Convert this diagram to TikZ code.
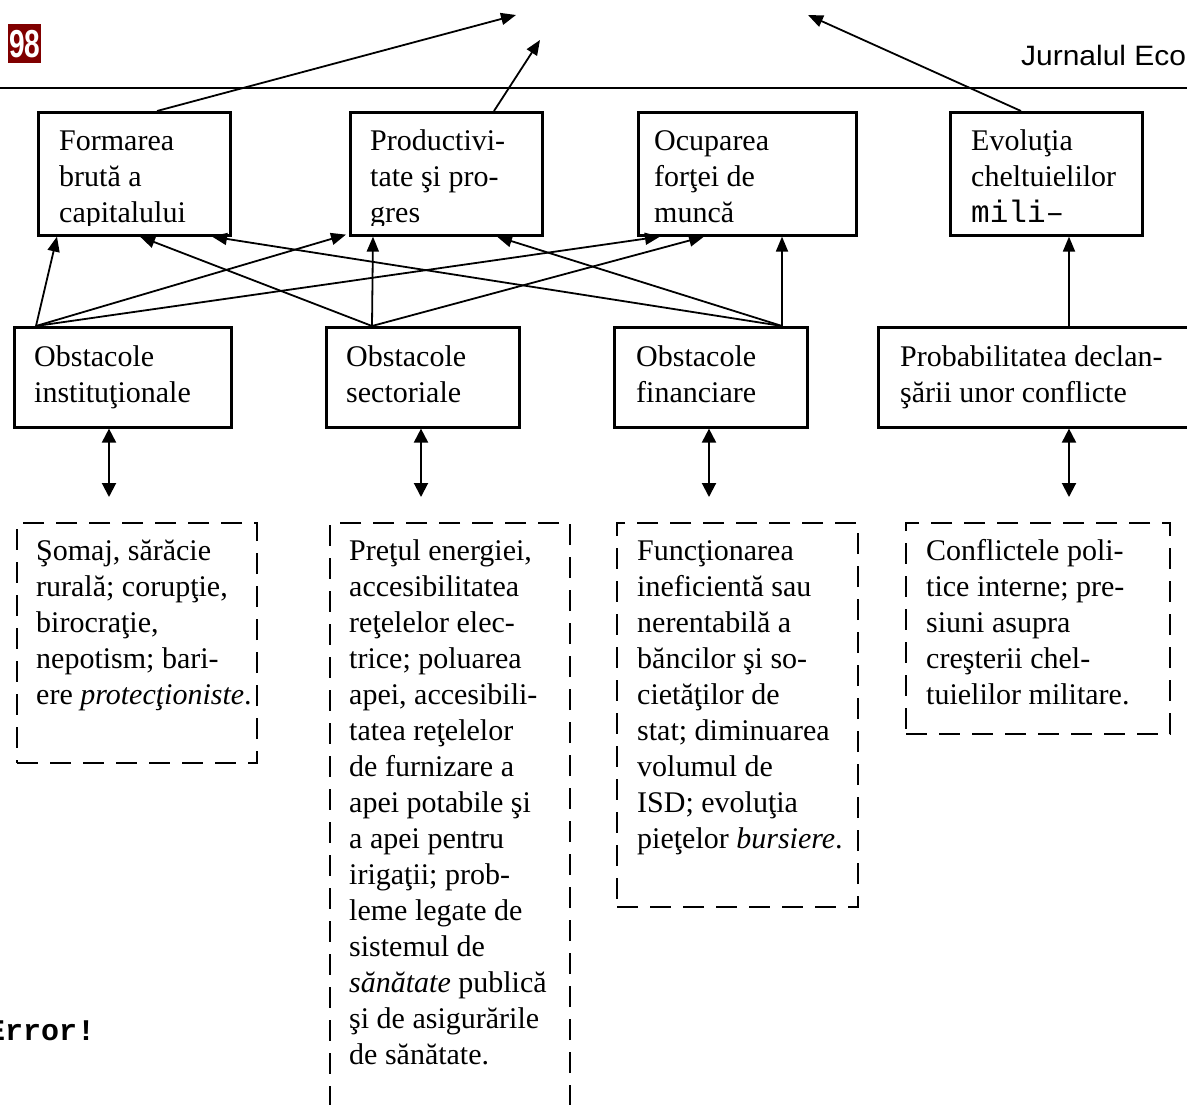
\documentclass[tikz,border=0pt]{standalone}
\usepackage{fontspec}
\setmainfont{Liberation Serif}
\newfontfamily\monofont{Liberation Mono}
\newfontfamily\hdrfont{Liberation Sans}
\usetikzlibrary{arrows.meta}
\definecolor{hdrred}{RGB}{128,0,0}
\begin{document}
\begin{tikzpicture}[x=1pt,y=-1pt,
  txt/.style={font=\fontsize{30}{36}\selectfont, align=left, anchor=north west, inner sep=0pt},
  sbox/.style={draw, line width=2.6pt, fill=white, anchor=north west, inner sep=0pt},
  dbox/.style={draw, line width=2.4pt, dash pattern=on 21pt off 12pt, anchor=north west, inner sep=0pt},
  con/.style={line width=1.8pt, -{Triangle[length=15pt,width=12pt]}},
  dcon/.style={line width=2pt, {Triangle[length=14pt,width=14pt]}-{Triangle[length=14pt,width=14pt]}}
]
\useasboundingbox (0,0) rectangle (1187,1104);
\clip (0,0) rectangle (1187,1104);

% header
\node[fill=hdrred, minimum width=33pt, minimum height=39pt, anchor=north west, inner sep=0pt,
      text=white, font=\hdrfont\bfseries\fontsize{39}{39}\selectfont] (pg) at (8,24) {\scalebox{0.72}[1]{98}};
\node[font=\hdrfont\fontsize{28}{28}\selectfont, anchor=base west, inner sep=0pt] (jr) at (1021,65) {\scalebox{1.07}[1]{Jurnalul Eco}};
\coordinate (rl) at (0,88);
\coordinate (rr) at (1187,88);
\draw[line width=2pt] (rl) -- (rr);

% free ends of the upper arrows
\coordinate (t1) at (516,15);
\coordinate (t2) at (540,40);
\coordinate (t3) at (808,15);

% top row boxes
\node[sbox, minimum width=192pt, minimum height=123pt] (form) at (37,111) {};
\node[sbox, minimum width=192pt, minimum height=123pt] (prod) at (349,111) {};
\node[sbox, minimum width=218pt, minimum height=123pt] (ocup) at (637,111) {};
\node[sbox, minimum width=192pt, minimum height=123pt] (evol) at (949,111) {};

\begin{scope}
\clip (form.north west) rectangle ([yshift=11.5pt]form.south east);
\node[txt] (formt) at (59,122) {\rule{0pt}{28pt}Formarea\\brută a\\capitalului};
\end{scope}
\begin{scope}
\clip (prod.north west) rectangle ([yshift=11.5pt]prod.south east);
\node[txt] (prodt) at (370,122) {\rule{0pt}{28pt}Productivi-\\tate şi pro-\\gres};
\end{scope}
\begin{scope}
\clip (ocup.north west) rectangle ([yshift=10pt]ocup.south east);
\node[txt] (ocupt) at (654,122) {\rule{0pt}{28pt}Ocuparea\\forţei de\\muncă};
\end{scope}
\begin{scope}
\clip (evol.north west) rectangle ([yshift=10pt]evol.south east);
\node[txt] (evolt) at (971,122) {\rule{0pt}{28pt}Evoluţia\\cheltuielilor\\{\monofont\fontsize{31}{36}\selectfont mili–}};
\end{scope}

% second row boxes
\node[sbox, minimum width=217pt, minimum height=100pt] (inst) at (13,326) {};
\node[sbox, minimum width=193pt, minimum height=100pt] (sect) at (325,326) {};
\node[sbox, minimum width=193pt, minimum height=100pt] (fin) at (613,326) {};
\node[sbox, minimum width=400pt, minimum height=100pt] (prob) at (877,326) {};

\node[txt] (instt) at (34,338) {\rule{0pt}{28pt}Obstacole\\instituţionale};
\node[txt] (sectt) at (346,338) {\rule{0pt}{28pt}Obstacole\\sectoriale};
\node[txt] (fint) at (636,338) {\rule{0pt}{28pt}Obstacole\\financiare};
\node[txt] (probt) at (900,338) {\rule{0pt}{28pt}Probabilitatea declan-\\şării unor conflicte};

% dashed boxes
\node[dbox, minimum width=240pt, minimum height=240pt] (d1) at (16,522) {};
\node[dbox, minimum width=240pt, minimum height=640pt] (d2) at (329,522) {};
\node[dbox, minimum width=241pt, minimum height=384pt] (d3) at (616,522) {};
\node[dbox, minimum width=264pt, minimum height=211pt] (d4) at (905,522) {};

\node[txt] (d1t) at (36,532) {\rule{0pt}{28pt}Şomaj, sărăcie\\rurală; corupţie,\\birocraţie,\\nepotism; bari-\\ere \textit{protecţioniste}.};
\node[txt] (d2t) at (349,532) {\rule{0pt}{28pt}Preţul energiei,\\accesibilitatea\\reţelelor elec-\\trice; poluarea\\apei, accesibili-\\tatea reţelelor\\de furnizare a\\apei potabile şi\\a apei pentru\\irigaţii; prob-\\leme legate de\\sistemul de\\\textit{sănătate} publică\\şi de asigurările\\de sănătate.};
\node[txt] (d3t) at (637,532) {\rule{0pt}{28pt}Funcţionarea\\ineficientă sau\\nerentabilă a\\băncilor şi so-\\cietăţilor de\\stat; diminuarea\\volumul de\\ISD; evoluţia\\pieţelor \textit{bursiere}.};
\node[txt] (d4t) at (926,532) {\rule{0pt}{28pt}Conflictele poli-\\tice interne; pre-\\siuni asupra\\creşterii chel-\\tuielilor militare.};

\node[font=\monofont\bfseries\fontsize{30}{30}\selectfont, anchor=base west, inner sep=0pt] (err) at (-13,1040) {Error!};

% upper arrows
\draw[con] ([xshift=120pt]form.north west) -- (t1);
\draw[con] ([xshift=145pt]prod.north west) -- (t2);
\draw[con] ([xshift=72pt]evol.north west) -- (t3);

% arrows from obstacles to top boxes
\draw[con] ([xshift=23pt]inst.north west) -- ([xshift=20pt]form.south west);
\draw[con] ([xshift=23pt]inst.north west) -- ([xshift=-3pt,yshift=2pt]prod.south west);
\draw[con] ([xshift=23pt]inst.north west) -- ([xshift=23pt]ocup.south west);

\draw[con] ([xshift=47pt]sect.north west) -- ([xshift=103pt]form.south west);
\draw[con] ([xshift=47pt]sect.north west) -- ([xshift=24pt]prod.south west);
\draw[con] ([xshift=47pt]sect.north west) -- ([xshift=67pt]ocup.south west);

\draw[con] ([xshift=169pt]fin.north west) -- ([xshift=175pt]form.south west);
\draw[con] ([xshift=169pt]fin.north west) -- ([xshift=148pt]prod.south west);
\draw[con] ([xshift=169pt]fin.north west) -- ([xshift=145pt]ocup.south west);

\draw[con] ([xshift=192pt]prob.north west) -- ([xshift=120pt]evol.south west);

% double arrows
\coordinate (i2) at (109,497);
\coordinate (s2) at (421,497);
\coordinate (f2) at (709,497);
\coordinate (p2) at (1069,497);
\draw[dcon] ([xshift=96pt]inst.south west) -- (i2);
\draw[dcon] ([xshift=96pt]sect.south west) -- (s2);
\draw[dcon] ([xshift=96pt]fin.south west) -- (f2);
\draw[dcon] ([xshift=192pt]prob.south west) -- (p2);
\end{tikzpicture}
\end{document}
